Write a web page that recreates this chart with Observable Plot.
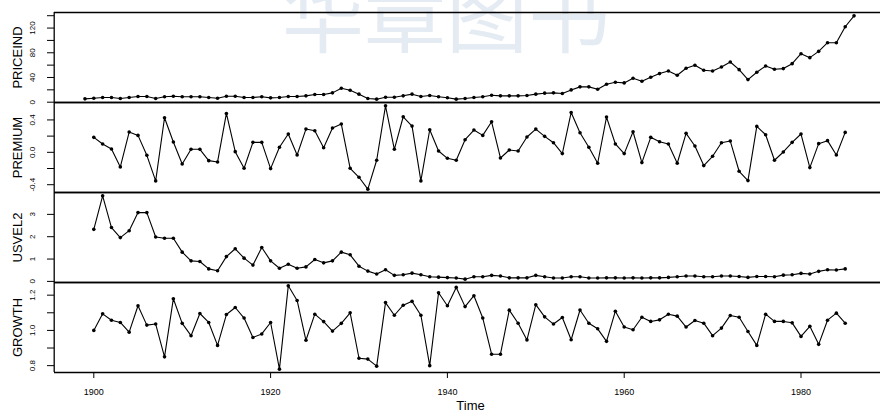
<!DOCTYPE html>
<html>
<head>
<meta charset="utf-8">
<script src="https://cdn.jsdelivr.net/npm/d3@7"></script>
<script src="https://cdn.jsdelivr.net/npm/@observablehq/plot@0.6"></script>
<style>
  html, body { margin: 0; padding: 0; background: #ffffff; }
  #wrap { position: relative; width: 880px; height: 414px; overflow: hidden; background: #ffffff;
          font-family: "Liberation Sans", Arial, Helvetica, sans-serif; }
  #wm { position: absolute; left: 282px; top: -30px; font-family: "Noto Sans CJK SC", sans-serif;
        font-size: 82px; line-height: 1; color: #e4ebf3; letter-spacing: 0px; white-space: nowrap; }
  .panel { position: absolute; left: 0; }
  .panel svg { overflow: visible; }
</style>
</head>
<body>
<div id="wrap"><div id="wm">华章图书</div></div>
<script>
// ---------------- data ----------------
const seriesNames = ["PRICEIND", "PREMIUM", "USVEL2", "GROWTH"];
const priceindStart = 1899;
const otherStart = 1900;

const priceind = [
  5.4, 6.5, 7.6, 7.6, 6.0, 7.6, 9.2, 9.2, 6.0, 8.7,
  9.7, 8.7, 8.7, 8.7, 7.6, 6.5, 9.7, 9.7, 7.6, 7.6,
  8.7, 7.0, 7.6, 9.2, 9.2, 10.3, 12.4, 12.4, 15.1, 22.6,
  19.4, 13.0, 6.0, 4.9, 8.1, 8.1, 10.3, 13.0, 9.2, 10.8,
  8.7, 7.2, 4.9, 6.0, 7.6, 8.7, 11.3, 10.3, 10.3, 10.3,
  10.8, 13.0, 14.6, 15.1, 14.0, 19.9, 24.8, 24.8, 21.0, 29.1,
  32.3, 31.2, 38.8, 33.9, 40.4, 46.3, 50.6, 43.6, 54.9, 59.7,
  51.7, 50.6, 57.0, 65.1, 52.7, 36.6, 48.4, 58.7, 53.3, 54.4,
  62.4, 78.5, 72.1, 82.3, 96.3, 96.3, 122.1, 139.8
];

const premium = [
  0.185, 0.103, 0.041, -0.18, 0.25, 0.209, -0.037, -0.353, 0.427, 0.127,
  -0.144, 0.037, 0.037, -0.103, -0.119, 0.48, 0.008, -0.197, 0.123, 0.123,
  -0.201, 0.062, 0.226, -0.033, 0.287, 0.267, 0.057, 0.30, 0.349, -0.197,
  -0.308, -0.455, -0.098, 0.574, 0.037, 0.439, 0.324, -0.353, 0.279, 0.016,
  -0.074, -0.098, 0.156, 0.275, 0.209, 0.377, -0.07, 0.029, 0.016, 0.189,
  0.287, 0.197, 0.119, -0.016, 0.492, 0.242, 0.062, -0.135, 0.435, 0.103,
  -0.016, 0.254, -0.127, 0.185, 0.131, 0.103, -0.135, 0.234, 0.078, -0.164,
  -0.049, 0.119, 0.139, -0.234, -0.349, 0.32, 0.217, -0.098, 0.004, 0.123,
  0.226, -0.189, 0.107, 0.144, -0.033, 0.246
];

const usvel2 = [
  2.33, 3.83, 2.41, 1.96, 2.27, 3.08, 3.08, 1.99, 1.93, 1.93,
  1.31, 0.92, 0.89, 0.56, 0.48, 1.11, 1.46, 1.04, 0.73, 1.52,
  0.92, 0.59, 0.77, 0.59, 0.65, 0.98, 0.83, 0.92, 1.31, 1.19,
  0.68, 0.46, 0.33, 0.52, 0.27, 0.30, 0.37, 0.30, 0.21, 0.19,
  0.17, 0.15, 0.10, 0.21, 0.21, 0.27, 0.24, 0.16, 0.16, 0.16,
  0.27, 0.21, 0.15, 0.15, 0.21, 0.21, 0.15, 0.15, 0.16, 0.16,
  0.15, 0.16, 0.15, 0.16, 0.16, 0.18, 0.21, 0.24, 0.24, 0.21,
  0.21, 0.24, 0.24, 0.22, 0.18, 0.22, 0.22, 0.21, 0.28, 0.30,
  0.36, 0.33, 0.45, 0.52, 0.51, 0.56
];

const growth = [
  1.00, 1.094, 1.058, 1.045, 0.99, 1.14, 1.03, 1.036, 0.85, 1.18,
  1.04, 0.97, 1.096, 1.045, 0.915, 1.09, 1.13, 1.07, 0.96, 0.98,
  1.045, 0.78, 1.253, 1.17, 0.944, 1.092, 1.05, 0.996, 1.04, 1.10,
  0.842, 0.837, 0.797, 1.158, 1.086, 1.143, 1.165, 1.086, 0.80, 1.214,
  1.14, 1.244, 1.135, 1.197, 1.07, 0.865, 0.865, 1.115, 1.041, 0.946,
  1.146, 1.077, 1.036, 1.073, 0.947, 1.116, 1.041, 1.009, 0.938, 1.109,
  1.019, 1.004, 1.075, 1.051, 1.06, 1.092, 1.081, 1.019, 1.056, 1.041,
  0.97, 1.013, 1.085, 1.075, 0.994, 0.915, 1.092, 1.051, 1.051, 1.043,
  0.966, 1.023, 0.921, 1.058, 1.098, 1.041
];

// tick values and labels
const xTicks = [1900, 1920, 1940, 1960, 1980];
const xTitle = "Time";
const priceindTicks = [0, 20, 40, 60, 80, 100, 120, 140];
const priceindLabels = ["0", "40", "80", "120"];
const premiumTicks = [-0.4, -0.2, 0, 0.2, 0.4];
const premiumLabels = ["-0.4", "0.0", "0.4"];
const usvel2Ticks = [0, 1, 2, 3, 4];
const usvel2Labels = ["0", "1", "2", "3"];
const growthTicks = [0.8, 0.9, 1.0, 1.1, 1.2];
const growthLabels = ["0.8", "1.0", "1.2"];

// ---------------- helpers ----------------
// R-style axis range: data extent extended by 4% on each side
function rRange(vals) {
  const [a, b] = d3.extent(vals);
  const p = (b - a) * 0.04;
  return [a - p, b + p];
}
const xDomain = rRange([priceindStart, priceindStart + priceind.length - 1]);
const pxPerYear = 8.84;
const xRange = [53.7, 53.7 + (xDomain[1] - xDomain[0]) * pxPerYear];

const panels = [
  {name: seriesNames[0], start: priceindStart, values: priceind, ticks: priceindTicks, labels: priceindLabels, top: 0, height: 102, mt: 12, mb: 0},
  {name: seriesNames[1], start: otherStart, values: premium, ticks: premiumTicks, labels: premiumLabels, top: 102, height: 90, mt: 0, mb: 0},
  {name: seriesNames[2], start: otherStart, values: usvel2, ticks: usvel2Ticks, labels: usvel2Labels, top: 192, height: 90, mt: 0, mb: 0},
  {name: seriesNames[3], start: otherStart, values: growth, ticks: growthTicks, labels: growthLabels, top: 282, height: 132, mt: 0, mb: 42, bottom: true}
];

const wrap = document.getElementById("wrap");
const font = "Liberation Sans, Arial, Helvetica, sans-serif";

for (const p of panels) {
  const data = p.values.map((v, i) => ({year: p.start + i, value: v}));
  const yDomain = rRange(p.values);
  const ticks = p.ticks.filter(t => t >= yDomain[0] && t <= yDomain[1]);
  const marks = [
    Plot.ruleY(yDomain, {stroke: "#000", strokeWidth: 1.3}),
    Plot.ruleX([xDomain[0]], {stroke: "#000", strokeWidth: 1.3}),
    Plot.line(data, {x: "year", y: "value", stroke: "#000", strokeWidth: 1.1}),
    Plot.dot(data, {x: "year", y: "value", r: 1.8, fill: "#000", stroke: "none"}),
    Plot.text(p.labels, {y: d => +d, text: d => d, frameAnchor: "left", dx: -22.3, rotate: -90,
      fontSize: 8, textAnchor: "middle", lineAnchor: "middle", fill: "#000"}),
    Plot.text([p.name], {text: d => d, frameAnchor: "left", dx: -36.5, rotate: -90,
      fontSize: 13, textAnchor: "middle", lineAnchor: "middle", fill: "#000"})
  ];
  if (p.bottom) {
    marks.push(Plot.text([xTitle], {text: d => d, frameAnchor: "bottom", dx: 3, dy: 33.5,
      fontSize: 13, textAnchor: "middle", lineAnchor: "middle", fill: "#000"}));
  }
  const chart = Plot.plot({
    width: 880,
    height: p.height,
    marginTop: p.mt,
    marginBottom: p.mb,
    marginLeft: 54,
    marginRight: 0,
    style: {background: "transparent", fontFamily: font, fontSize: "9px", color: "#000", overflow: "visible"},
    x: p.bottom
      ? {domain: xDomain, range: xRange, ticks: xTicks, tickSize: 6, tickPadding: 10, tickFormat: d => String(d), label: null}
      : {domain: xDomain, range: xRange, axis: null},
    y: {domain: yDomain, ticks: ticks, tickSize: 7, tickFormat: () => "", label: null},
    marks
  });
  const div = document.createElement("div");
  div.className = "panel";
  div.style.top = p.top + "px";
  div.appendChild(chart);
  wrap.appendChild(div);
}
</script>
</body>
</html>
